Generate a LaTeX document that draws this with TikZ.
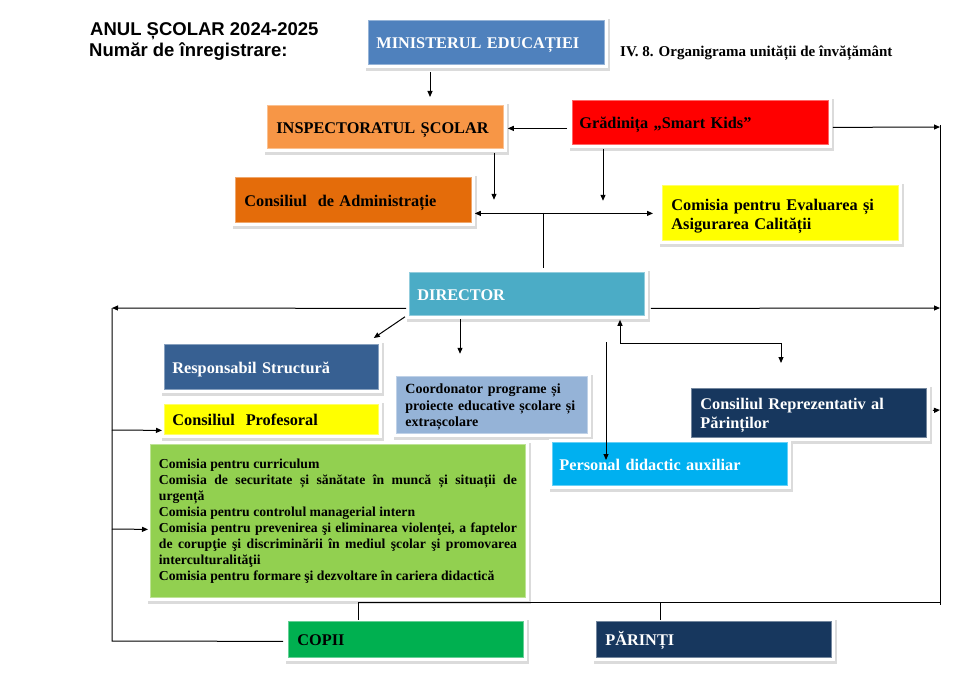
\documentclass[tikz,border=0pt]{standalone}
\usepackage{fontspec}
\setmainfont{Liberation Serif}
\newfontfamily\arialb{Liberation Sans}
\usetikzlibrary{arrows.meta,calc}
\definecolor{cMin}{HTML}{4F81BD}
\definecolor{cInsp}{HTML}{F79646}
\definecolor{cGrad}{HTML}{FF0000}
\definecolor{cCadm}{HTML}{E46C0A}
\definecolor{cYel}{HTML}{FFFF00}
\definecolor{cDir}{HTML}{4BACC6}
\definecolor{cResp}{HTML}{376092}
\definecolor{cCoord}{HTML}{95B3D7}
\definecolor{cNavy}{HTML}{17375E}
\definecolor{cPers}{HTML}{00B0F0}
\definecolor{cGreen}{HTML}{92D050}
\definecolor{cCopii}{HTML}{00B050}
\tikzset{
  box/.style={draw=#1!60!white, fill=#1, line width=0.8pt, anchor=north west,
    align=left, inner ysep=2pt, text=black,
    font=\bfseries\fontsize{16.3}{19}\selectfont,
    preaction={draw=black!14, line width=8pt, transform canvas={shift={(1.5pt,-2.5pt)}}},
    preaction={draw=white, line width=7pt}},
  oneline/.style={text height=12.5pt, text depth=0pt},
  down/.style={execute at begin node={\rule{0pt}{#1}}},
  arr/.style={-{Triangle[length=6pt,width=5pt]}, line width=1pt},
  darr/.style={{Triangle[length=6pt,width=5pt]}-{Triangle[length=6pt,width=5pt]}, line width=1pt},
  ln/.style={line width=1pt},
  hdr/.style={anchor=base west, inner sep=0pt, font=\arialb\bfseries\fontsize{18.5}{22}\selectfont},
}
\begin{document}
\begin{tikzpicture}[x=1pt,y=-1pt]
\useasboundingbox (0,0) rectangle (972,687);

% header texts
\node[hdr] (h1) at (90,36) {ANUL ȘCOLAR 2024-2025};
\node[hdr] (h2) at (89,57) {Număr de înregistrare:};
\node[anchor=base west, inner sep=0pt, font=\bfseries\fontsize{15}{18}\selectfont] (title) at (620,57) {IV. 8. Organigrama unității de învățământ};

% boxes
\node[box=cMin, oneline, text=white, minimum width=236pt, minimum height=44pt, inner xsep=8pt, text width=220pt] (min) at (368,20) {MINISTERUL EDUCAȚIEI};
\node[box=cInsp, oneline, minimum width=236pt, minimum height=43pt, inner xsep=9pt, text width=218pt] (insp) at (267,105) {INSPECTORATUL ȘCOLAR};
\node[box=cGrad, oneline, minimum width=256pt, minimum height=44pt, inner xsep=7pt, text width=242pt] (grad) at (572,100) {Grădinița „Smart Kids”};
\node[box=cCadm, oneline, minimum width=236pt, minimum height=45pt, inner xsep=9pt, text width=218pt] (cadm) at (235,177) {Consiliul\ \ de Administrație};
\node[box=cYel, down=19.2pt, minimum width=236pt, minimum height=55pt, inner xsep=9pt, text width=218pt] (ceac) at (662,185) {Comisia pentru Evaluarea și\\Asigurarea Calității};
\node[box=cDir, oneline, text=white, minimum width=235pt, minimum height=43pt, inner xsep=8pt, text width=219pt] (dir) at (409,272) {DIRECTOR};
\node[box=cResp, oneline, text=white, minimum width=214pt, minimum height=45pt, inner xsep=8pt, text width=198pt] (resp) at (164,344) {Responsabil Structură};
\node[box=cYel, oneline, minimum width=214pt, minimum height=30pt, inner xsep=8pt, text width=198pt] (cprof) at (164,404) {Consiliul\ \ Profesoral};
\node[box=cCoord, down=14.7pt, minimum width=191pt, minimum height=57pt, inner xsep=9pt, text width=173pt, font=\bfseries\fontsize{14}{16.5}\selectfont] (coord) at (396,376) {Coordonator programe și\\proiecte educative școlare și\\extrașcolare};
\node[box=cNavy, down=17.2pt, text=white, minimum width=235pt, minimum height=49pt, inner xsep=9pt, text width=217pt] (crp) at (691,388) {Consiliul Reprezentativ al\\Părinților};
\node[box=cPers, oneline, text=white, minimum width=235pt, minimum height=43pt, inner xsep=7pt, text width=221pt] (pers) at (552,442) {Personal didactic auxiliar};
\node[box=cGreen, minimum width=375pt, minimum height=153pt, inner xsep=8pt, text width=358pt, align=justify, font=\bfseries\fontsize{13.7}{16}\selectfont] (green) at (150,444) {Comisia pentru curriculum\par
Comisia de securitate și sănătate în muncă și situații de\linebreak urgență\par
Comisia pentru controlul managerial intern\par
Comisia pentru prevenirea şi eliminarea violenţei, a faptelor\linebreak de corupţie şi discriminării în mediul şcolar şi promovarea\linebreak interculturalităţii\par
Comisia pentru formare şi dezvoltare în cariera didactică};
\node[box=cCopii, oneline, minimum width=235pt, minimum height=36pt, inner xsep=9pt, text width=217pt] (copii) at (288,621) {COPII};
\node[box=cNavy, oneline, text=white, minimum width=235pt, minimum height=36pt, inner xsep=9pt, text width=217pt] (par) at (596,621) {PĂRINȚI};

% named free ends
\coordinate (Rtop) at (940,125);
\coordinate (Rbot) at (940,605);
\coordinate (R1) at (940,127);
\coordinate (R2) at (940,308);
\coordinate (R3) at (940,410);
\coordinate (Bus) at (543,213);
\coordinate (L1) at (112,308);
\coordinate (L2) at (112,430);
\coordinate (L3) at (112,529);
\coordinate (L4) at (112,641);
\coordinate (P1) at (781,343);
\coordinate (P2) at (620,343);
\coordinate (Q1) at (606,342);
\coordinate (B1) at (358,602);
\coordinate (B2) at (660,602);
\coordinate (B3) at (940,602);

% connectors
\draw[arr] ($(min.south west)+(62,7)$) -- ($(insp.north west)+(163,-8)$);
\draw[arr] ($(grad.west)+(-5,6)$) -- ($(insp.east)+(4,1.5)$);
\draw[arr] ($(grad.east)+(4,5)$) -- (R1);
\draw[ln] (Rtop) -- (Rbot);
\draw[arr] ($(insp.south west)+(227,4)$) -- ($(insp.south west)+(227,51)$);
\draw[arr] ($(grad.south west)+(31,4)$) -- ($(grad.south west)+(31,56)$);
\draw[darr] ($(cadm.east)+(3,13.5)$) -- ($(ceac.west)+(-9,0.5)$);
\draw[ln] (Bus) -- ($(dir.north west)+(134,-4)$);
\draw[arr] ($(dir.east)+(6,14.5)$) -- (R2);
\draw[arr] ($(dir.west)+(-3,14.5)$) -- (L1);
\draw[ln] (L1) -- (L4) -- ($(copii.west)+(-5,2)$);
\draw[arr] (L2) -- ($(cprof.west)+(-2,11)$);
\draw[arr] (L3) -- ($(green.west)+(-2,8.5)$);
\draw[arr] ($(dir.south west)+(-4,1)$) -- ($(resp.north east)+(-5,-6)$);
\draw[arr] ($(dir.south west)+(51,3)$) -- ($(dir.south west)+(51,38)$);
\draw[darr] ($(crp.north west)+(90,-25)$) -- (P1) -- (P2) -- ($(dir.south west)+(211,4)$);
\draw[arr] (Q1) -- ($(pers.north west)+(54,18)$);
\draw[arr] ($(crp.east)+(6,-2.5)$) -- (R3);
\draw[ln] (B1) -- (B3);
\draw[ln] (B1) -- ($(copii.north west)+(70,-1)$);
\draw[ln] (B2) -- ($(par.north west)+(64,-1)$);
\end{tikzpicture}
\end{document}
